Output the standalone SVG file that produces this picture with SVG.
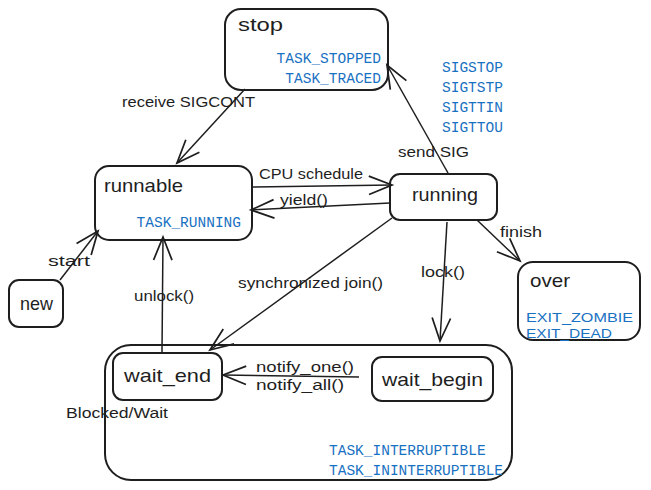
<svg xmlns="http://www.w3.org/2000/svg" width="651" height="490" viewBox="0 0 651 490">
<style>
.box{fill:#ffffff;stroke:#1e1e1e;stroke-width:2}
.edge{fill:none;stroke:#1e1e1e;stroke-width:1.5}
.title{font-family:"Liberation Sans",Arial,sans-serif;font-size:19px;fill:#1e1e1e}
.lbl{font-family:"Liberation Sans",Arial,sans-serif;font-size:14px;fill:#1e1e1e}
.blue{font-family:"Liberation Mono","DejaVu Sans Mono",monospace;font-size:14.5px;fill:#1971c2}
.blue2{font-family:"Liberation Sans",Arial,sans-serif;font-size:13px;fill:#1971c2}
</style>
<defs>
<marker id="arr" markerUnits="userSpaceOnUse" markerWidth="30" markerHeight="30" refX="0" refY="0" viewBox="-22 -12 26 24" orient="auto">
<path d="M-20,-8 L0,0 L-20,8" fill="none" stroke="#1e1e1e" stroke-width="1.5"/>
</marker>
</defs>
<rect width="651" height="490" fill="#ffffff"/>
<g id="blocked">
<rect class="box" x="105" y="345" width="407" height="135" rx="26"/>
<text class="lbl" x="66" y="418" textLength="102" lengthAdjust="spacingAndGlyphs">Blocked/Wait</text>
<text class="blue" x="329" y="455">TASK_INTERRUPTIBLE</text>
<text class="blue" x="329" y="475">TASK_ININTERRUPTIBLE</text>
</g>
<g id="stop">
<rect class="box" x="225" y="9" width="163" height="81" rx="16"/>
<text class="title" x="238" y="31" textLength="45" lengthAdjust="spacingAndGlyphs">stop</text>
<text class="blue" x="381" y="63" text-anchor="end">TASK_STOPPED</text>
<text class="blue" x="381" y="83" text-anchor="end">TASK_TRACED</text>
</g>
<g id="runnable">
<rect class="box" x="95" y="166" width="157" height="74" rx="14"/>
<text class="title" x="104" y="192" textLength="79" lengthAdjust="spacingAndGlyphs">runnable</text>
<text class="blue" x="241" y="227" text-anchor="end">TASK_RUNNING</text>
</g>
<g id="running">
<rect class="box" x="390" y="174" width="107" height="46" rx="10"/>
<text class="title" x="412" y="201" textLength="66" lengthAdjust="spacingAndGlyphs">running</text>
</g>
<g id="new">
<rect class="box" x="9" y="280" width="54" height="47" rx="10"/>
<text class="title" x="20" y="310" textLength="33" lengthAdjust="spacingAndGlyphs">new</text>
</g>
<g id="over">
<rect class="box" x="518" y="262" width="122" height="78" rx="15"/>
<text class="title" x="530" y="287" textLength="40" lengthAdjust="spacingAndGlyphs">over</text>
<text class="blue2" x="526" y="322" textLength="107" lengthAdjust="spacingAndGlyphs">EXIT_ZOMBIE</text>
<text class="blue2" x="526" y="338" textLength="86" lengthAdjust="spacingAndGlyphs">EXIT_DEAD</text>
</g>
<g id="wait_end">
<rect class="box" x="113" y="353" width="109" height="47" rx="10"/>
<text class="title" x="124" y="382" textLength="87" lengthAdjust="spacingAndGlyphs">wait_end</text>
</g>
<g id="wait_begin">
<rect class="box" x="372" y="357" width="121" height="44" rx="10"/>
<text class="title" x="382" y="386" textLength="101" lengthAdjust="spacingAndGlyphs">wait_begin</text>
</g>
<g id="connectors">
<line class="edge" x1="245" y1="89" x2="177" y2="163" marker-end="url(#arr)"/>
<text class="lbl" x="122" y="107" textLength="133" lengthAdjust="spacingAndGlyphs">receive SIGCONT</text>
<line class="edge" x1="448" y1="173" x2="387" y2="65" marker-end="url(#arr)"/>
<text class="blue" x="442" y="72">SIGSTOP</text>
<text class="blue" x="442" y="92">SIGTSTP</text>
<text class="blue" x="442" y="112">SIGTTIN</text>
<text class="blue" x="442" y="132">SIGTTOU</text>
<text class="lbl" x="398" y="157" textLength="71" lengthAdjust="spacingAndGlyphs">send SIG</text>
<line class="edge" x1="252" y1="187" x2="392" y2="185" marker-end="url(#arr)"/>
<text class="lbl" x="259" y="179" textLength="104" lengthAdjust="spacingAndGlyphs">CPU schedule</text>
<line class="edge" x1="390" y1="203" x2="251" y2="210" marker-end="url(#arr)"/>
<text class="lbl" x="280" y="205" textLength="48" lengthAdjust="spacingAndGlyphs">yield()</text>
<line class="edge" x1="60" y1="280" x2="98" y2="231" marker-end="url(#arr)"/>
<text class="lbl" x="48" y="266" textLength="42" lengthAdjust="spacingAndGlyphs">start</text>
<line class="edge" x1="162" y1="352" x2="163" y2="237" marker-end="url(#arr)"/>
<text class="lbl" x="134" y="301" textLength="60" lengthAdjust="spacingAndGlyphs">unlock()</text>
<line class="edge" x1="392" y1="218" x2="210" y2="350" marker-end="url(#arr)"/>
<text class="lbl" x="238" y="288" textLength="145" lengthAdjust="spacingAndGlyphs">synchronized join()</text>
<line class="edge" x1="447" y1="222" x2="440" y2="341" marker-end="url(#arr)"/>
<text class="lbl" x="421" y="277" textLength="44" lengthAdjust="spacingAndGlyphs">lock()</text>
<line class="edge" x1="477" y1="220" x2="520" y2="261" marker-end="url(#arr)"/>
<text class="lbl" x="500" y="237" textLength="42" lengthAdjust="spacingAndGlyphs">finish</text>
<line class="edge" x1="359" y1="377" x2="223" y2="375" marker-end="url(#arr)"/>
<text class="lbl" x="256" y="372" textLength="98" lengthAdjust="spacingAndGlyphs">notify_one()</text>
<text class="lbl" x="256" y="390" textLength="88" lengthAdjust="spacingAndGlyphs">notify_all()</text>
</g>
</svg>
